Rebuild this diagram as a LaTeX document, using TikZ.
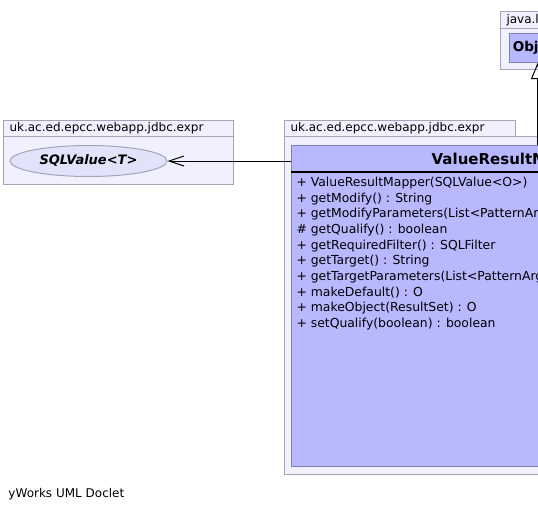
\documentclass[tikz,border=0pt]{standalone}
\usepackage{fontspec}
\setmainfont{DejaVu Sans}
\usetikzlibrary{arrows.meta,shapes.geometric}
\definecolor{pkgfill}{RGB}{240,240,255}
\definecolor{pkgline}{RGB}{164,164,180}
\definecolor{classfill}{RGB}{184,184,255}
\definecolor{classline}{RGB}{128,128,168}
\definecolor{ellfill}{RGB}{226,226,250}
\begin{document}
\begin{tikzpicture}[x=1pt, y=-1pt, line width=1pt, font=\fontsize{12}{14}\selectfont,
  pkgbody/.style={draw=pkgline, fill=pkgfill, anchor=north west, inner sep=0pt},
  pkgtab/.style={draw=pkgline, fill=pkgfill, anchor=north west, inner xsep=6pt, inner ysep=0pt, minimum height=16pt, align=left},
  classbox/.style={draw=classline, fill=classfill, anchor=north west, inner sep=0pt},
  member/.style={anchor=west, inner sep=0pt, font=\fontsize{12.4}{14}\selectfont}]
  \useasboundingbox (0,0) rectangle (538,512);
  \clip (0,0) rectangle (538,512);
  % package uk.ac.ed.epcc.webapp.jdbc.expr (left)
  \node[pkgbody, minimum width=230pt, minimum height=48pt] (exprbody) at (3,136) {};
  \node[pkgtab, text width=218pt] (exprtab) at (3,120) {uk.ac.ed.epcc.webapp.jdbc.expr};
  \node[ellipse, draw=pkgline, fill=ellfill, minimum width=157pt, minimum height=31pt, inner sep=0pt, font=\bfseries\itshape\fontsize{13}{15}\selectfont] (sqlvalue) at (88.5,161) {SQLValue<T>};
  % package uk.ac.ed.epcc.webapp.jdbc.expr (right)
  \node[pkgbody, minimum width=400pt, minimum height=338pt] (mapperbody) at (284,136) {};
  \node[pkgtab, text width=219pt] (mappertab) at (284,120) {uk.ac.ed.epcc.webapp.jdbc.expr};
  \node[classbox, minimum width=446pt, minimum height=321pt] (mapper) at (291,145) {};
  \node[font=\bfseries\fontsize{15}{18}\selectfont] (mappername) at (514,160) {ValueResultMapper};
  \draw[line width=2pt] ([yshift=-27pt]mapper.north west) -- ([yshift=-27pt]mapper.north east);
  \node[member] (m1) at (296,183.3) {+ ValueResultMapper(SQLValue<O>)};
  \node[member] (m2) at (296,198.9) {+ getModify() : String};
  \node[member] (m3) at (296,214.5) {+ getModifyParameters(List<PatternArgument>) : List<PatternArgument>};
  \node[member] (m4) at (296,230.1) {\# getQualify() : boolean};
  \node[member] (m5) at (296,245.7) {+ getRequiredFilter() : SQLFilter};
  \node[member] (m6) at (296,261.3) {+ getTarget() : String};
  \node[member] (m7) at (296,276.9) {+ getTargetParameters(List<PatternArgument>) : List<PatternArgument>};
  \node[member] (m8) at (296,292.5) {+ makeDefault() : O};
  \node[member] (m9) at (296,308.1) {+ makeObject(ResultSet) : O};
  \node[member] (m10) at (296,323.7) {+ setQualify(boolean) : boolean};
  % package java.lang
  \node[pkgbody, minimum width=100pt, minimum height=41pt] (langbody) at (500,28) {};
  \node[pkgtab, text width=88pt, minimum height=17pt] (langtab) at (500,11) {java.lang};
  \node[classbox, minimum width=56pt, minimum height=29pt, font=\bfseries\fontsize{13.5}{16}\selectfont] (object) at (509,33) {Object};
  % connectors
  \draw[-{Straight Barb[length=15pt, width=10pt]}] ([yshift=-16pt]mapper.north west) -- (sqlvalue.east);
  \draw[-{Triangle[open, length=16pt, width=13pt]}] (mapper.north -| object.south) -- (object.south);
  \node[anchor=west, inner sep=0pt] (doclet) at (8,494) {yWorks UML Doclet};
\end{tikzpicture}
\end{document}
